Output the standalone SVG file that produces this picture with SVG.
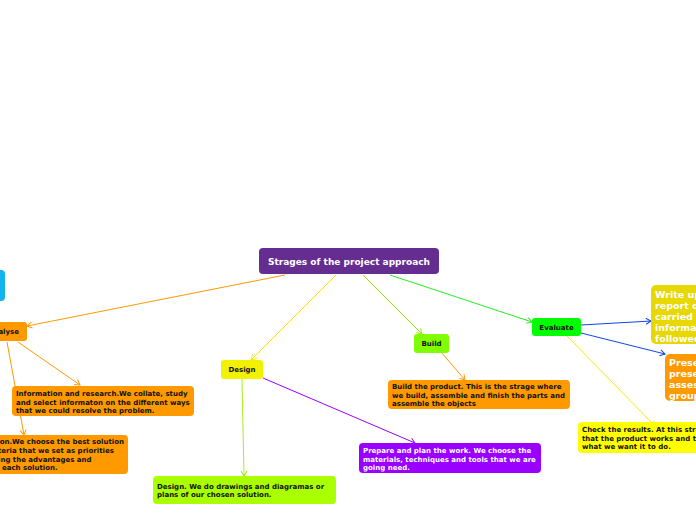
<svg xmlns="http://www.w3.org/2000/svg" width="696" height="520" viewBox="0 0 696 520">
<style>
text{font-family:"DejaVu Sans",Verdana,sans-serif;font-weight:bold}
.s{font-size:7px;fill:#111}
.w{font-size:7px;fill:#fff}
.b{font-size:9.5px;fill:#fff}
.c{fill:none;stroke-width:1}
</style>
<defs>
<marker id="mo" markerWidth="8" markerHeight="8" refX="6" refY="4" orient="auto" markerUnits="userSpaceOnUse"><path d="M1,1 L6,4 L1,7" fill="none" stroke="#ff9900" stroke-width="1"/></marker>
<marker id="my" markerWidth="8" markerHeight="8" refX="6" refY="4" orient="auto" markerUnits="userSpaceOnUse"><path d="M1,1 L6,4 L1,7" fill="none" stroke="#eeee00" stroke-width="1"/></marker>
<marker id="ml" markerWidth="8" markerHeight="8" refX="6" refY="4" orient="auto" markerUnits="userSpaceOnUse"><path d="M1,1 L6,4 L1,7" fill="none" stroke="#99ee00" stroke-width="1"/></marker>
<marker id="mg" markerWidth="8" markerHeight="8" refX="6" refY="4" orient="auto" markerUnits="userSpaceOnUse"><path d="M1,1 L6,4 L1,7" fill="none" stroke="#33ee33" stroke-width="1"/></marker>
<marker id="mp" markerWidth="8" markerHeight="8" refX="6" refY="4" orient="auto" markerUnits="userSpaceOnUse"><path d="M1,1 L6,4 L1,7" fill="none" stroke="#9900ff" stroke-width="1"/></marker>
<marker id="mb" markerWidth="8" markerHeight="8" refX="6" refY="4" orient="auto" markerUnits="userSpaceOnUse"><path d="M1,1 L6,4 L1,7" fill="none" stroke="#1144ee" stroke-width="1"/></marker>
</defs>
<rect width="696" height="520" fill="#fff"/>
<g id="connectors">
<path class="c" stroke="#ff9900" d="M285,275 L27,326" marker-end="url(#mo)"/>
<path class="c" stroke="#ff9900" d="M18,342 L80,385" marker-end="url(#mo)"/>
<path class="c" stroke="#ff9900" d="M7,342 L24,435" marker-end="url(#mo)"/>
<path class="c" stroke="#eeee00" d="M336,275 L251,360" marker-end="url(#my)"/>
<path class="c" stroke="#aaee22" d="M242,379 L244,476" marker-end="url(#ml)"/>
<path class="c" stroke="#9900ff" d="M263,378 L415,443" marker-end="url(#mp)"/>
<path class="c" stroke="#88ee00" d="M363,275 L422,334" marker-end="url(#ml)"/>
<path class="c" stroke="#ff9900" d="M441,352 L465,380" marker-end="url(#mo)"/>
<path class="c" stroke="#22ee22" d="M390,275 L532,322" marker-end="url(#mg)"/>
<path class="c" stroke="#1144ee" d="M581,325 L651,321" marker-end="url(#mb)"/>
<path class="c" stroke="#1144ee" d="M581,333 L665,354" marker-end="url(#mb)"/>
<path class="c" stroke="#eeee00" d="M567,336 L655,426" marker-end="url(#my)"/>
</g>
<g id="root">
<rect x="259" y="248" width="180" height="26" rx="4" fill="#662d91"/>
<text x="349" y="265" text-anchor="middle" font-size="9" fill="#fff">Strages of the project approach</text>
</g>
<g id="blue">
<rect x="-20" y="270" width="25" height="31" rx="4" fill="#11b5f0"/>
</g>
<g id="analyse">
<rect x="-30" y="322" width="57" height="19" rx="3" fill="#ff9900"/>
<text x="19" y="334" text-anchor="end" class="s">Analyse</text>
</g>
<g id="info">
<rect x="12" y="386" width="182" height="30" rx="4" fill="#ff9900"/>
<text class="s" x="16" y="396">Information and research.We collate, study</text>
<text class="s" x="16" y="405">and select informaton on the different ways</text>
<text class="s" x="16" y="413">that we could resolve the problem.</text>
</g>
<g id="selection">
<rect x="-20" y="435" width="148" height="39" rx="4" fill="#ff9900"/>
<text class="s" x="124" y="444" text-anchor="end">Selection.We choose the best solution</text>
<text class="s" x="-2" y="453">teria that we set as priorities</text>
<text class="s" x="-2" y="462">ing the advantages and</text>
<text class="s" x="2" y="470">each solution.</text>
</g>
<g id="design">
<rect x="221" y="360" width="42" height="19" rx="3" fill="#f2f200"/>
<text class="s" x="242" y="372" text-anchor="middle">Design</text>
</g>
<g id="design-detail">
<rect x="153" y="476" width="183" height="28" rx="4" fill="#aaff00"/>
<text class="s" x="157" y="489">Design. We do drawings and diagramas or</text>
<text class="s" x="157" y="497">plans of our chosen solution.</text>
</g>
<g id="prepare">
<rect x="359" y="443" width="182" height="30" rx="4" fill="#9900ff"/>
<text class="w" x="363" y="453">Prepare and plan the work. We choose the</text>
<text class="w" x="363" y="462">materials, techniques and tools that we are</text>
<text class="w" x="363" y="470">going need.</text>
</g>
<g id="build">
<rect x="414" y="334" width="35" height="19" rx="3" fill="#80ff00"/>
<text class="s" x="431.5" y="346" text-anchor="middle">Build</text>
</g>
<g id="build-detail">
<rect x="388" y="380" width="182" height="29" rx="4" fill="#ff9900"/>
<text class="s" x="392" y="389">Build the product. This is the strage where</text>
<text class="s" x="392" y="398">we build, assemble and finish the parts and</text>
<text class="s" x="392" y="406">assemble the objects</text>
</g>
<g id="evaluate">
<rect x="532" y="318" width="49" height="18" rx="3" fill="#00ff00"/>
<text class="s" x="556.5" y="330" text-anchor="middle">Evaluate</text>
</g>
<g id="writeup">
<rect x="651" y="285" width="60" height="59" rx="5" fill="#e6d800"/>
<text class="b" x="655" y="298">Write up</text>
<text class="b" x="655" y="309">report o</text>
<text class="b" x="655" y="320">carried o</text>
<text class="b" x="655" y="331">informat</text>
<text class="b" x="655" y="342">followed</text>
</g>
<g id="present">
<rect x="665" y="354" width="40" height="47" rx="5" fill="#ff9900"/>
<text class="b" x="669" y="366">Prese</text>
<text class="b" x="669" y="377">prese</text>
<text class="b" x="669" y="388">asses</text>
<text class="b" x="669" y="399">group</text>
</g>
<g id="check">
<rect x="578" y="422" width="130" height="31" rx="4" fill="#ffff00"/>
<text class="s" x="582" y="432">Check the results. At this stra</text>
<text class="s" x="582" y="441">that the product works and th</text>
<text class="s" x="582" y="449">what we want it to do.</text>
</g>
</svg>
